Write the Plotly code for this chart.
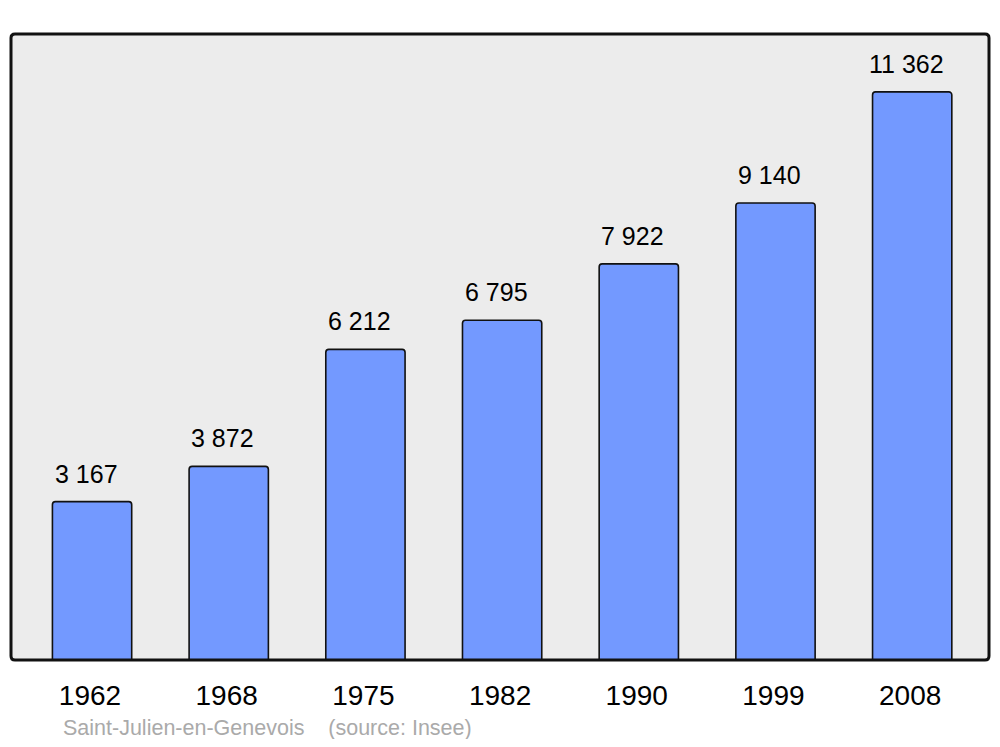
import plotly.graph_objects as go

years = ["1962", "1968", "1975", "1982", "1990", "1999", "2008"]
population = [3167, 3872, 6212, 6795, 7922, 9140, 11362]
value_labels = [f"{v:,}".replace(",", " ") for v in population]
source_text = "Saint-Julien-en-Genevois\u00a0\u00a0\u00a0\u00a0(source: Insee)"

FONT = "Liberation Sans, Arial, sans-serif"

# page body has an 8px margin; figure sized/margined to compensate
W, H = 984, 731
ML, MR, MT, MB = 3, 3, 26, 79
PW, PH = W - ML - MR, H - MT - MB

fig = go.Figure()
fig.add_trace(go.Bar(
    x=list(range(len(years))),
    y=population,
    width=0.58,
    marker=dict(color="#7399FF", line=dict(color="#111111", width=1.6)),
    hoverinfo="skip",
))

for i, (v, lab) in enumerate(zip(population, value_labels)):
    fig.add_annotation(x=i, y=v, text=lab, showarrow=False, xref="x", yref="y",
                       yanchor="bottom", yshift=12, xshift=-6,
                       font=dict(family=FONT, size=25, color="#000000"))

fig.add_annotation(x=(62 - 8 - ML) / PW, y=-(728 - 8 - (MT + PH)) / PH,
                   xref="paper", yref="paper", borderpad=0,
                   xanchor="left", yanchor="middle", text=source_text, showarrow=False,
                   font=dict(family=FONT, size=21.5, color="#AAAAAA"))

# rounded frame
rx, ry = 4 / PW, 4 / PH
path = (f"M {rx},0 L {1-rx},0 Q 1,0 1,{ry} L 1,{1-ry} Q 1,1 {1-rx},1 "
        f"L {rx},1 Q 0,1 0,{1-ry} L 0,{ry} Q 0,0 {rx},0 Z")
fig.add_shape(type="path", xref="paper", yref="paper", path=path,
              line=dict(color="#111111", width=3), fillcolor="rgba(0,0,0,0)", layer="above")

fig.update_layout(
    width=W, height=H,
    margin=dict(l=ML, r=MR, t=MT, b=MB),
    paper_bgcolor="#FFFFFF",
    plot_bgcolor="#ECECEC",
    showlegend=False,
    barcornerradius=3,
    xaxis=dict(range=[-0.593, 6.562], tickmode="array",
               tickvals=[i - 0.015 for i in range(len(years))],
               ticktext=years, showgrid=False, zeroline=False, showline=False,
               ticks="outside", ticklen=10, tickcolor="rgba(0,0,0,0)",
               tickfont=dict(family=FONT, size=28, color="#000000"), fixedrange=True),
    yaxis=dict(range=[0, 12520], showgrid=False, zeroline=False, showline=False,
               showticklabels=False, ticks="", fixedrange=True),
)

fig.write_html("out.html")
